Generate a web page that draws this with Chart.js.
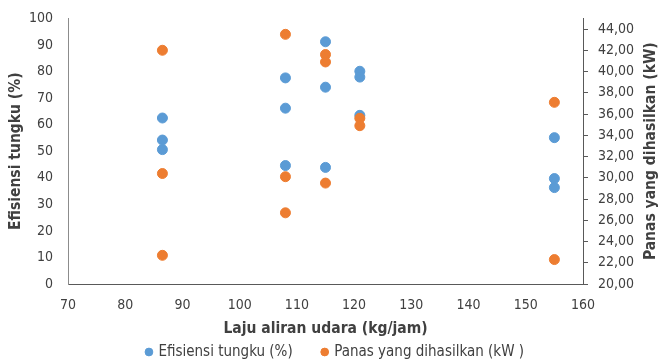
<!DOCTYPE html>
<html>
<head>
<meta charset="utf-8">
<script src="https://cdn.jsdelivr.net/npm/chart.js@4.4.0/dist/chart.umd.min.js"></script>
<style>
  html, body { margin: 0; padding: 0; background: #fff; }
  #wrap { width: 659px; height: 364px; }
</style>
</head>
<body>
<div id="wrap"><canvas id="grafik"></canvas></div>
<script>
// data
const lajuEfisiensi = [86.5, 86.5, 86.5, 108, 108, 108, 115, 115, 115, 121, 121, 121, 155, 155, 155];
const efisiensi = [62.5, 54.2, 50.6, 77.6, 66.2, 44.6, 91.2, 74.1, 43.9, 80.1, 77.9, 63.5, 55.1, 39.7, 36.3];
const lajuPanas = [86.5, 86.5, 86.5, 108, 108, 108, 115, 115, 115, 121, 121, 155, 155];
const panas = [42.0, 30.4, 22.7, 43.5, 30.1, 26.7, 41.6, 40.9, 29.5, 35.6, 34.9, 37.1, 22.3];
const tickPanas = [20, 22, 24, 26, 28, 30, 32, 34, 36, 38, 40, 42, 44];

const fontName = "'DejaVu Sans Condensed', 'DejaVu Sans', sans-serif";
const teks = '#404040';

function toPoints(xs, ys) {
  return xs.map((x, i) => ({ x: x, y: ys[i] }));
}

// right axis title reads bottom-to-top, so draw it ourselves
// and nudge the legend like in the original
const extras = {
  id: 'extras',
  afterLayout(chart) {
    chart.legend.left += 6;
    chart.legend.right += 6;
  },
  afterDraw(chart) {
    const ctx = chart.ctx;
    const area = chart.chartArea;
    ctx.save();
    ctx.translate(651, (area.top + area.bottom) / 2);
    ctx.rotate(-Math.PI / 2);
    ctx.font = "bold 15.5px " + fontName;
    ctx.fillStyle = teks;
    ctx.textAlign = 'center';
    ctx.textBaseline = 'middle';
    ctx.fillText('Panas yang dihasilkan (kW)', 0, 0);
    ctx.restore();
  }
};

Chart.defaults.font.family = fontName;
Chart.defaults.font.size = 14;
Chart.defaults.color = teks;

new Chart(document.getElementById('grafik'), {
  type: 'scatter',
  data: {
    datasets: [{
      label: 'Efisiensi tungku (%)',
      data: toPoints(lajuEfisiensi, efisiensi),
      backgroundColor: '#5B9BD5',
      borderColor: '#5B9BD5',
      pointRadius: 5,
      pointHoverRadius: 5,
      yAxisID: 'y',
      order: 1
    }, {
      label: 'Panas yang dihasilkan (kW )',
      data: toPoints(lajuPanas, panas),
      backgroundColor: '#ED7D31',
      borderColor: '#ED7D31',
      pointRadius: 5,
      pointHoverRadius: 5,
      yAxisID: 'y1',
      order: 0
    }]
  },
  options: {
    responsive: true,
    maintainAspectRatio: false,
    animation: false,
    layout: { padding: { top: 17.5, left: 0, right: 0, bottom: -5.5 } },
    plugins: {
      tooltip: { enabled: false },
      legend: {
        position: 'bottom',
        labels: {
          usePointStyle: true,
          pointStyle: 'circle',
          boxWidth: 4,
          boxHeight: 5.5,
          padding: 30,
          color: teks,
          font: { size: 15 },
          sort: (a, b) => a.datasetIndex - b.datasetIndex
        }
      }
    },
    scales: {
      x: {
        type: 'linear',
        min: 70,
        max: 160,
        ticks: { stepSize: 10, color: teks, padding: 5 },
        grid: { display: false },
        border: { display: true, color: '#595959' },
        title: {
          display: true,
          text: 'Laju aliran udara (kg/jam)',
          color: teks,
          font: { size: 15.5, weight: 'bold' },
          padding: { top: 0, bottom: -24 }
        },
        afterFit(scale) { scale.height = 30.5; }
      },
      y: {
        position: 'left',
        min: 0,
        max: 100,
        ticks: { stepSize: 10, color: teks, padding: 7 },
        grid: { display: false },
        border: { display: true, color: '#8c8c8c' },
        title: {
          display: true,
          text: 'Efisiensi tungku (%)',
          color: teks,
          font: { size: 15.5, weight: 'bold' },
          padding: { top: 6.5, bottom: 0 }
        },
        afterFit(scale) { scale.width = 68; }
      },
      y1: {
        position: 'right',
        min: 20,
        max: 45,
        ticks: {
          color: teks,
          padding: 10,
          callback: (v) => v.toFixed(2).replace('.', ',')
        },
        afterBuildTicks(scale) {
          scale.ticks = tickPanas.map(v => ({ value: v }));
        },
        grid: { display: true, drawOnChartArea: false, tickLength: 5, color: '#595959' },
        border: { display: true, color: '#595959' },
        afterFit(scale) { scale.width = 76; }
      }
    }
  },
  plugins: [extras]
});
</script>
</body>
</html>
